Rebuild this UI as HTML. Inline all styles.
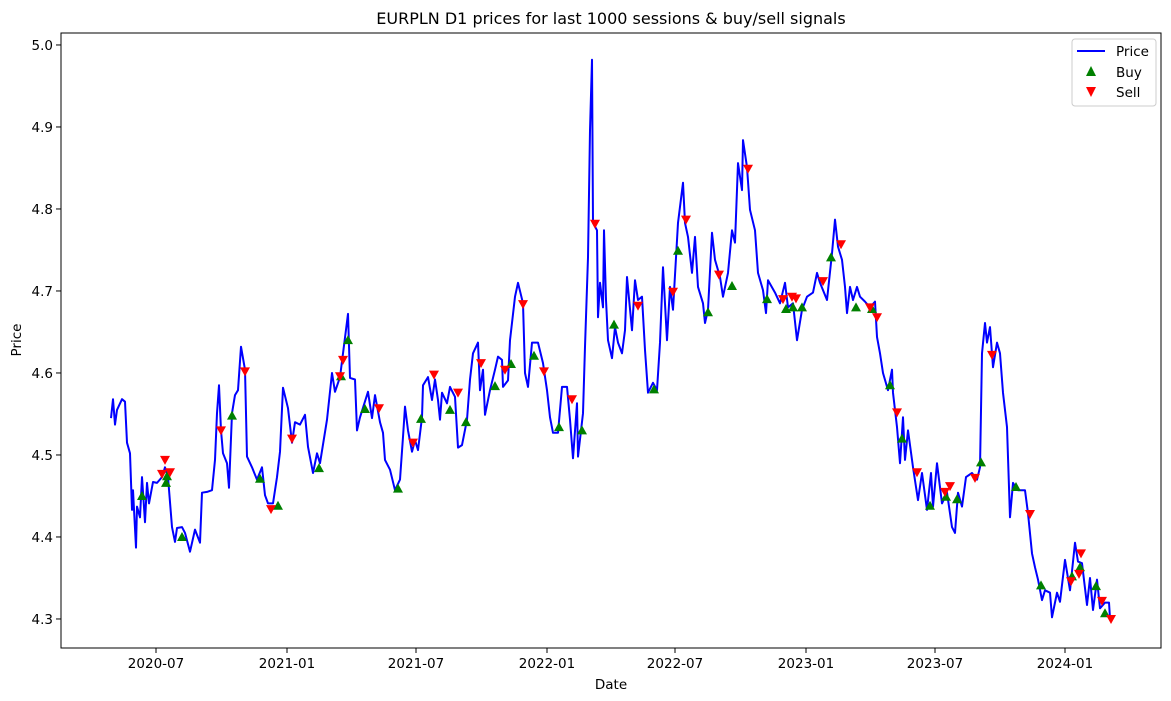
<!DOCTYPE html>
<html><head><meta charset="utf-8"><style>
html,body{margin:0;padding:0;background:#fff;}
svg{display:block;font-family:"DejaVu Sans","Liberation Sans",sans-serif;}
</style></head><body>
<svg id="chart" width="1171" height="701" viewBox="0 0 1171 701" xmlns="http://www.w3.org/2000/svg">
<rect x="0" y="0" width="1171" height="701" fill="#fff"/>
<text x="611" y="24" text-anchor="middle" font-size="16" fill="#000">EURPLN D1 prices for last 1000 sessions &amp; buy/sell signals</text>
<g id="grid"></g>
<g id="series"></g>
<rect x="61" y="33" width="1100" height="615" fill="none" stroke="#000" stroke-width="1"/>
<text x="611" y="689" text-anchor="middle" font-size="13.5">Date</text>
<text transform="translate(21,340) rotate(-90)" text-anchor="middle" font-size="13.5">Price</text>
<g>
<rect x="1072" y="39" width="84" height="67" rx="3" fill="#fff" fill-opacity="0.8" stroke="#ccc"/>
<line x1="1077" y1="51" x2="1105" y2="51" stroke="#0000ff" stroke-width="2"/>
<text x="1116" y="56" font-size="13.5">Price</text>
<polygon points="1091,66 1096,76 1086,76" fill="#008000"/>
<text x="1116" y="77" font-size="13.5">Buy</text>
<polygon points="1086,87 1096,87 1091,97" fill="#ff0000"/>
<text x="1116" y="97" font-size="13.5">Sell</text>
</g>
</svg>
<script>
const priceSessions=[0,2,4,6,11,14,16,19,21,22,25,26,29,31,34,36,38,42,46,51,54,57,61,64,66,71,74,79,84,89,91,96,101,104,106,108,110,112,116,118,121,124,127,130,134,136,141,146,151,154,157,162,166,169,172,177,181,184,189,194,197,202,206,209,216,221,224,229,237,239,244,246,249,257,261,264,269,272,274,279,284,289,292,294,297,301,304,307,311,312,317,321,324,327,329,331,336,339,344,347,351,356,359,362,367,369,372,374,379,384,387,391,392,397,399,404,407,412,414,417,421,427,432,436,439,442,447,451,456,459,462,466,467,472,474,477,479,481,482,486,487,489,492,493,495,497,501,504,507,511,514,516,521,524,527,531,534,537,542,546,549,552,556,559,562,567,572,574,577,581,584,587,592,594,597,601,604,609,612,617,621,624,627,631,632,636,639,644,647,652,655,657,664,669,674,677,682,686,691,696,702,706,709,716,721,724,727,731,734,736,739,742,746,749,754,759,764,766,769,772,777,781,782,786,789,792,794,797,802,807,811,816,820,822,826,831,836,841,844,847,851,855,861,866,869,871,874,876,879,882,886,889,892,896,899,902,907,914,917,921,924,927,931,934,939,941,946,949,954,959,964,967,971,976,979,982,986,989,994,998,999];
const priceValues=[4.545,4.568,4.537,4.555,4.568,4.565,4.515,4.502,4.433,4.457,4.387,4.437,4.424,4.473,4.418,4.466,4.441,4.467,4.466,4.473,4.485,4.473,4.412,4.394,4.411,4.412,4.405,4.382,4.409,4.393,4.454,4.455,4.457,4.494,4.551,4.585,4.530,4.502,4.490,4.460,4.551,4.573,4.579,4.632,4.604,4.498,4.485,4.470,4.485,4.451,4.441,4.441,4.473,4.504,4.582,4.557,4.515,4.540,4.537,4.549,4.510,4.478,4.502,4.490,4.543,4.600,4.577,4.595,4.672,4.594,4.592,4.530,4.546,4.577,4.545,4.573,4.540,4.527,4.494,4.482,4.457,4.470,4.522,4.559,4.530,4.504,4.518,4.506,4.546,4.585,4.595,4.567,4.592,4.567,4.543,4.576,4.563,4.583,4.571,4.509,4.512,4.543,4.592,4.624,4.637,4.579,4.604,4.549,4.579,4.604,4.620,4.616,4.583,4.591,4.640,4.693,4.710,4.685,4.600,4.583,4.637,4.637,4.612,4.579,4.546,4.527,4.527,4.583,4.583,4.543,4.496,4.563,4.498,4.551,4.632,4.741,4.896,4.982,4.783,4.774,4.668,4.710,4.680,4.774,4.689,4.640,4.618,4.656,4.637,4.624,4.652,4.717,4.652,4.713,4.689,4.693,4.628,4.576,4.588,4.579,4.637,4.729,4.640,4.705,4.677,4.783,4.832,4.783,4.766,4.722,4.766,4.705,4.685,4.661,4.677,4.771,4.738,4.717,4.693,4.722,4.774,4.759,4.856,4.823,4.884,4.851,4.799,4.774,4.722,4.701,4.673,4.713,4.698,4.685,4.710,4.680,4.685,4.640,4.677,4.693,4.698,4.722,4.710,4.689,4.746,4.787,4.754,4.738,4.705,4.673,4.705,4.689,4.705,4.693,4.687,4.680,4.687,4.644,4.624,4.600,4.579,4.604,4.576,4.534,4.490,4.546,4.494,4.530,4.485,4.445,4.478,4.433,4.478,4.437,4.490,4.441,4.454,4.412,4.405,4.454,4.437,4.473,4.478,4.470,4.485,4.624,4.661,4.637,4.656,4.607,4.637,4.624,4.576,4.534,4.424,4.466,4.457,4.457,4.429,4.380,4.363,4.348,4.323,4.335,4.332,4.302,4.332,4.321,4.372,4.335,4.393,4.370,4.368,4.317,4.350,4.311,4.348,4.313,4.320,4.320,4.301];
const buySessions=[31,55,56,71,121,149,167,208,230,237,254,287,310,339,355,384,400,423,448,471,503,543,567,597,621,656,675,682,691,720,745,761,779,791,819,835,846,870,905,930,961,969,985,994];
const buyValues=[4.450,4.466,4.474,4.400,4.548,4.471,4.438,4.484,4.596,4.640,4.556,4.459,4.544,4.555,4.540,4.584,4.611,4.621,4.534,4.530,4.659,4.580,4.749,4.674,4.706,4.690,4.678,4.680,4.680,4.741,4.680,4.678,4.585,4.520,4.438,4.449,4.446,4.491,4.461,4.341,4.352,4.363,4.340,4.307];
const sellSessions=[51,54,59,110,134,160,181,229,232,268,302,323,347,370,394,412,433,461,484,527,562,575,608,637,672,681,685,712,730,759,766,786,806,834,839,864,881,919,960,968,970,991,1000];
const sellValues=[4.477,4.494,4.479,4.530,4.602,4.434,4.520,4.596,4.616,4.557,4.515,4.598,4.576,4.612,4.604,4.684,4.602,4.568,4.782,4.682,4.699,4.787,4.720,4.849,4.690,4.693,4.691,4.712,4.757,4.680,4.668,4.552,4.479,4.455,4.462,4.472,4.622,4.428,4.346,4.355,4.380,4.322,4.300];
const xTickSessions=[45,176,305,436,564,695,824,954];
const xTickLabels=["2020-07","2021-01","2021-07","2022-01","2022-07","2023-01","2023-07","2024-01"];
const yTickValues=[4.3,4.4,4.5,4.6,4.7,4.8,4.9,5.0];
const yTickLabels=["4.3","4.4","4.5","4.6","4.7","4.8","4.9","5.0"];

const NS="http://www.w3.org/2000/svg";
const PL=61,PR=1161,PT=33,PB=648;
const X0=-50,X1=1050,Y0=4.2646,Y1=5.0146;
function xs(v){return PL+(v-X0)/(X1-X0)*(PR-PL);}
function ys(v){return PB-(v-Y0)/(Y1-Y0)*(PB-PT);}
function mk(tag,attrs,parent){const e=document.createElementNS(NS,tag);for(const k in attrs)e.setAttribute(k,attrs[k]);parent.appendChild(e);return e;}
const grid=document.getElementById('grid');
const series=document.getElementById('series');
xTickSessions.forEach((s,i)=>{
  const x=xs(s);
  const t=mk('line',{x1:x,y1:PB,x2:x,y2:PB+5,stroke:'#000','stroke-width':1},grid);
  
  
  const l=mk('text',{x:x,y:PB+20,'text-anchor':'middle','font-size':13.5},grid);
  l.textContent=xTickLabels[i];
  
  
});
yTickValues.forEach((v,i)=>{
  const y=ys(v);
  const t=mk('line',{x1:PL-5,y1:y,x2:PL,y2:y,stroke:'#000','stroke-width':1},grid);
  
  
  const l=mk('text',{x:PL-8,y:y+5,'text-anchor':'end','font-size':13.5},grid);
  l.textContent=yTickLabels[i];
  
  
});
const pts=priceSessions.map((s,i)=>xs(s).toFixed(1)+','+ys(priceValues[i]).toFixed(1)).join(' ');
const line=mk('polyline',{points:pts,fill:'none',stroke:'#0000ff','stroke-width':2,'stroke-linejoin':'round'},series);


buySessions.forEach((s,i)=>{
  const x=xs(s),y=ys(buyValues[i]);
  const p=mk('polygon',{points:`${x},${y-5} ${x+5},${y+4} ${x-5},${y+4}`,fill:'#008000'},series);
  
  
});
sellSessions.forEach((s,i)=>{
  const x=xs(s),y=ys(sellValues[i]);
  const p=mk('polygon',{points:`${x-5},${y-4} ${x+5},${y-4} ${x},${y+5}`,fill:'#ff0000'},series);
  
  
});
</script>
</body></html>
